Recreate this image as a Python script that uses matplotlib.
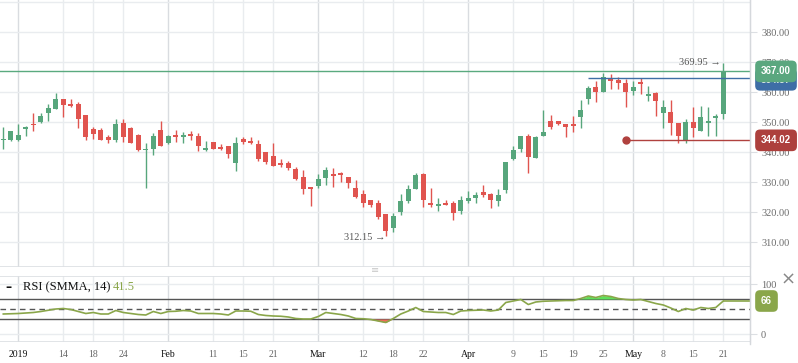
import numpy as np
import matplotlib
matplotlib.use('Agg')
import matplotlib.pyplot as plt
from matplotlib.lines import Line2D

# daily candles, 2 Jan .. 21 May 2019
opens = [344.0, 344.1, 344.1, 347.8, 349.3, 350.1, 353.2, 354.5, 357.8, 356.1,
         356.1, 352.5, 347.8, 347.4, 345.1, 344.1, 349.7, 348.3, 345.8, 340.7,
         341.1, 347.4, 343.2, 345.9, 345.2, 345.9, 345.4, 340.9, 343.4, 341.9,
         342.2, 336.5, 344.4, 343.9, 342.8, 340.0, 338.8, 336.2, 336.5, 334.3,
         331.7, 328.1, 328.9, 331.5, 332.8, 333.0, 331.7, 328.0, 326.1, 324.1,
         323.0, 319.3, 314.9, 320.2, 323.8, 327.8, 332.8, 323.2, 322.1, 323.2,
         323.2, 320.5, 323.7, 324.7, 326.9, 326.1, 323.8, 327.4, 337.7, 341.2,
         345.6, 338.2, 345.5, 350.4, 350.4, 349.4, 349.0, 351.9, 357.7, 361.7,
         360.1, 364.4, 364.1, 363.0, 360.5, 363.4, 358.9, 359.8, 353.2, 353.4,
         349.8, 344.1, 350.0, 347.2, 349.8, 351.6, 352.9]
highs = [348.5, 347.2, 349.4, 348.8, 353.2, 353.2, 356.1, 359.7, 357.9, 357.8,
         356.8, 352.6, 348.5, 348.2, 345.8, 351.1, 351.1, 348.5, 346.0, 343.2,
         346.5, 350.4, 345.8, 347.4, 346.8, 347.1, 346.5, 343.8, 343.5, 342.7,
         342.3, 345.1, 345.1, 345.1, 344.1, 340.1, 343.3, 337.7, 337.0, 335.2,
         334.1, 328.5, 332.8, 335.2, 334.7, 333.5, 331.9, 330.8, 327.4, 324.3,
         324.1, 319.5, 319.7, 326.3, 329.1, 333.2, 333.2, 328.2, 324.7, 324.1,
         323.7, 325.4, 327.1, 326.9, 329.1, 326.5, 327.8, 336.9, 342.1, 345.6,
         346.1, 345.4, 354.3, 352.4, 350.5, 349.5, 352.1, 357.4, 362.1, 363.9,
         366.5, 366.1, 365.0, 364.4, 363.8, 364.7, 362.0, 360.2, 357.4, 357.4,
         349.9, 351.1, 355.2, 355.5, 355.2, 352.8, 369.95]
lows = [341.3, 343.8, 343.9, 345.5, 347.1, 349.7, 350.5, 354.4, 351.9, 355.2,
        348.3, 344.1, 344.4, 344.0, 343.2, 343.4, 343.4, 343.0, 340.6, 328.2,
        339.3, 342.0, 342.7, 343.5, 343.2, 344.3, 340.4, 340.4, 341.0, 340.8,
        338.2, 333.8, 342.7, 342.7, 337.2, 336.2, 335.4, 335.2, 334.1, 330.8,
        326.1, 322.2, 328.2, 329.3, 328.5, 330.1, 328.2, 324.9, 321.9, 321.9,
        317.8, 312.15, 313.4, 319.1, 323.2, 327.7, 321.9, 321.9, 320.5, 322.4,
        317.4, 319.4, 323.2, 323.2, 325.0, 321.5, 322.1, 326.5, 337.6, 340.1,
        333.2, 338.1, 345.4, 347.8, 349.1, 345.2, 346.9, 348.0, 356.3, 356.9,
        360.0, 361.2, 361.2, 355.2, 359.3, 359.5, 357.1, 352.2, 348.2, 345.8,
        343.0, 343.0, 345.0, 347.1, 345.5, 345.5, 351.1]
closes = [344.3, 347.1, 345.8, 348.3, 349.0, 352.1, 354.8, 357.8, 355.9, 355.4,
          351.2, 345.2, 346.1, 344.1, 344.1, 349.4, 345.2, 343.2, 340.8, 340.9,
          345.4, 342.2, 345.4, 345.2, 345.9, 345.5, 342.2, 341.1, 341.1, 341.1,
          339.3, 343.2, 343.5, 343.0, 337.8, 336.8, 335.5, 335.9, 334.9, 331.1,
          327.9, 327.9, 331.0, 334.1, 332.2, 332.3, 329.9, 325.2, 323.2, 322.4,
          318.3, 313.9, 318.8, 323.8, 327.8, 332.4, 324.1, 322.5, 322.8, 322.5,
          319.9, 324.1, 324.8, 325.7, 325.8, 324.1, 325.8, 336.9, 340.8, 345.6,
          338.5, 345.0, 346.8, 348.5, 349.5, 348.5, 348.8, 354.1, 361.4, 360.1,
          365.0, 363.8, 363.2, 360.2, 361.8, 362.8, 359.3, 357.1, 355.1, 349.9,
          345.5, 350.0, 348.2, 351.8, 350.0, 351.8, 367.00]

rsi = [40, 40.5, 41, 42, 43, 45, 47.5, 50, 51, 49,
       45, 41, 43, 40, 40, 47, 43, 41, 39, 38,
       45, 41, 45, 45.5, 47, 46, 41, 41, 41, 40,
       38, 46, 46, 45.5, 39, 37, 36, 35.5, 34, 31,
       30, 30, 35, 43, 41, 39, 36, 31, 30.5, 29,
       26, 23, 31, 40, 46, 53, 45, 44, 43, 43,
       39, 46, 47, 47.5, 48, 46, 48, 63, 66, 69,
       59, 64, 65.5, 66, 66.5, 67, 67, 71, 76, 73,
       77, 75, 71, 69, 68, 69, 65, 61, 58, 52,
       45, 51, 48, 53, 51, 53, 66]

tick_idx = [2, 8, 12, 16, 22, 28, 32, 36, 42, 48, 52, 56, 62, 68, 72, 76, 80, 84, 88, 92, 96]
tick_labels = ['2019', '14', '18', '24', 'Feb', '11', '15', '21', 'Mar', '12', '18',
               '22', 'Apr', '9', '15', '19', '25', 'May', '8', '15', '21']
month_labels = ['2019', 'Feb', 'Mar', 'Apr', 'May']

blue_level, blue_start = 364.87, 78
red_level, red_start = 344.02, 83
low_idx = 51
rsi_legend = 41.5

up = '#57a67c'
down = '#e0544f'
grid = '#e9ecef'
serif = ['Liberation Serif', 'DejaVu Sans']

plt.rcParams['font.family'] = serif

fig = plt.figure(figsize=(7.98, 3.63), dpi=100)
W, H = 798.0, 363.0
ax = fig.add_axes([0, 1 - 266.7 / H, 750 / W, 266.7 / H])
ax2 = fig.add_axes([0, 1 - 342 / H, 750 / W, 66.3 / H])

idx = np.arange(len(closes))
o = np.array(opens)
c = np.array(closes)
cols = np.where(c >= o, up, down)
ax.vlines(idx, lows, highs, colors=cols, lw=1.0, zorder=3)
ax.bar(idx, np.maximum(np.abs(c - o), 0.5), bottom=np.minimum(o, c), width=0.68,
       color=cols, zorder=4)

xmax = 99.56
for a in (ax, ax2):
    a.set_xlim(-0.44, xmax)
    a.set_xticks(tick_idx)
    for t, lab in zip(tick_idx, tick_labels):
        a.axvline(t, color='#d9dce0' if lab in month_labels else grid, lw=1, zorder=0)
    for s in ('top', 'left', 'bottom'):
        a.spines[s].set_visible(False)
    a.spines['right'].set_color('#d5d8dc')
    a.yaxis.tick_right()
    a.tick_params(axis='y', length=5, color='#dcdfe3', labelcolor='#6b6b6b',
                  labelsize=7.5, pad=3)

ax.set_ylim(301.9, 390.8)
ax.set_yticks(np.arange(310, 390, 10))
ax.set_yticklabels(['%.2f' % v for v in np.arange(310, 390, 10)])
for v in np.arange(310, 400, 10):
    ax.axhline(v, color=grid, lw=1, zorder=0)
ax.tick_params(axis='x', length=0, labelbottom=False)
ax.axhline(301.9, color='#dcdfe3', lw=1.2)

# price lines
ax.axhline(closes[-1], color='#5aaa7f', lw=1, zorder=5)
ax.hlines(blue_level, blue_start, xmax, color='#3e6ea6', lw=1, zorder=5)
ax.hlines(red_level, red_start, xmax, color='#b0413e', lw=1, zorder=5)
ax.plot(red_start, red_level, 'o', color='#b0413e', ms=5, zorder=6)

def tag(a, y, txt, color, dy=0, z=10):
    a.annotate(txt, xy=(1, y), xycoords=('axes fraction', 'data'),
               xytext=(11, dy), textcoords='offset pixels', ha='left', va='center',
               color='white', fontsize=7, fontweight='bold', family='Liberation Sans',
               annotation_clip=False, zorder=z,
               bbox=dict(boxstyle='round,pad=0.6,rounding_size=0.5', fc=color, ec='none'))

tag(ax, blue_level, '%.2f' % blue_level, '#3e6ea6', dy=-2, z=9)
tag(ax, closes[-1], '%.2f' % closes[-1], '#5aa77f', z=10)
tag(ax, red_level, '%.2f' % red_level, '#ad403d')

ax.annotate('%.2f →' % highs[-1], xy=(idx[-1] - 0.3, highs[-1]), ha='right', va='center',
            fontsize=7.5, color='#555555', family=serif, zorder=7)
ax.annotate('%.2f →' % lows[low_idx], xy=(low_idx - 0.1, lows[low_idx] - 0.5), ha='right',
            va='center', fontsize=7.5, color='#555555', family=serif, zorder=7)

# RSI pane
ax2.set_ylim(-16, 116.6)
ax2.set_yticks([0, 100])
for v in (0, 100):
    ax2.axhline(v, color=grid, lw=1, zorder=0)
ax2.axhline(-16, color='#dcdfe3', lw=1.2)
ax2.axhline(116.6, color='#dcdfe3', lw=1.2)
ax2.axhline(70, color='#555555', lw=1, zorder=2)
ax2.axhline(30, color='#555555', lw=1, zorder=2)
ax2.axhline(50, color='#555555', lw=1, ls=(0, (4, 3)), zorder=2)
r = np.array(rsi, dtype=float)
ax2.fill_between(idx, r, 70, where=r > 70, interpolate=True, color='#5fe05a', lw=0, zorder=3)
ax2.fill_between(idx, r, 30, where=r < 30, interpolate=True, color='#f06a5a', lw=0, zorder=3)
ax2.plot(idx, r, color='#8aa64a', lw=1.2, zorder=4)
ax2.hlines(r[-1], idx[-1], xmax, color='#8aa64a', lw=1.2, zorder=4)
tag(ax2, r[-1], '%d' % r[-1], '#8aa64a')

ax2.set_xticklabels(tick_labels)
ax2.tick_params(axis='x', length=0, pad=6, labelsize=7)
for lab in ax2.get_xticklabels():
    lab.set_color('#111111' if lab.get_text() in month_labels else '#666666')

fig.text(5 / W, 1 - 287 / H, '–', fontsize=9, fontweight='bold', color='#111111', va='center',
         family='DejaVu Sans')
fig.text(23 / W, 1 - 287 / H, 'RSI (SMMA, 14)', fontsize=9, color='#111111', va='center')
fig.text(113 / W, 1 - 287 / H, '%.1f' % rsi_legend, fontsize=9, color='#8aa64a', va='center')
fig.text(375 / W, 1 - 270 / H, '≡', fontsize=7, color='#c8c8c8', ha='center', va='center',
         family='DejaVu Sans')
fig.text(788 / W, 1 - 280 / H, '×', fontsize=13, color='#888888', ha='center', va='center',
         family='DejaVu Sans')
fig.add_artist(Line2D([750 / W, 750 / W], [1 - 344 / H, 1], color='#d5d8dc', lw=1))

plt.savefig('out.png', dpi=100)
